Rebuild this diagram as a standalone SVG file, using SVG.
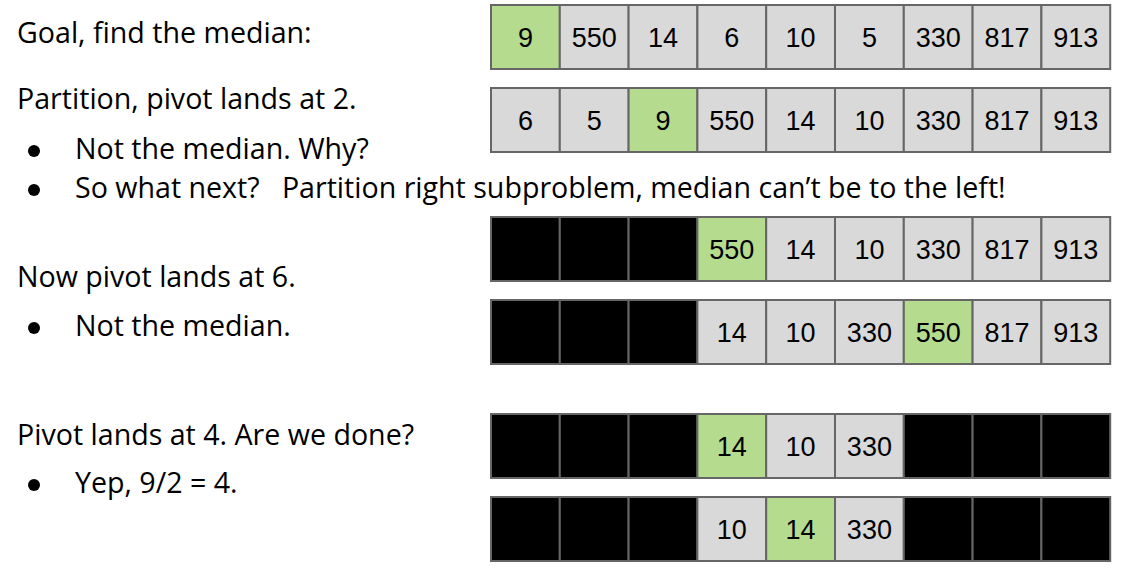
<svg xmlns="http://www.w3.org/2000/svg" width="1134" height="569" viewBox="0 0 1134 569">
<style>
.t{font-family:"Open Sans","Liberation Sans",Arial,sans-serif;font-size:28.6px;fill:#000}
.n{font-family:"Liberation Sans",Arial,sans-serif;font-size:27px;fill:#000;text-anchor:middle}
.c{fill:#d9d9d9;stroke:#666;stroke-width:2}
.g{fill:#b5db8f;stroke:#666;stroke-width:2}
.k{fill:#000;stroke:#666;stroke-width:2}
</style>
<rect width="1134" height="569" fill="#fff"/>
<g id="text">
<text class="t" x="17" y="43">Goal, find the median:</text>
<text class="t" x="17" y="109">Partition, pivot lands at 2.</text>
<circle cx="34" cy="151" r="6"/>
<text class="t" x="75" y="159">Not the median. Why?</text>
<circle cx="34" cy="190" r="6"/>
<text class="t" x="75" y="198" xml:space="preserve">So what next?   Partition right subproblem, median can’t be to the left!</text>
<text class="t" x="17" y="287">Now pivot lands at 6.</text>
<circle cx="34" cy="328" r="6"/>
<text class="t" x="75" y="336">Not the median.</text>
<text class="t" x="17" y="445">Pivot lands at 4. Are we done?</text>
<circle cx="34" cy="485" r="6"/>
<text class="t" x="75" y="493">Yep, 9/2 = 4.</text>
</g>
<g id="row1">
<rect class="g" x="491" y="5" width="68.8" height="64"/>
<rect class="c" x="559.8" y="5" width="68.8" height="64"/>
<rect class="c" x="628.6" y="5" width="68.8" height="64"/>
<rect class="c" x="697.4" y="5" width="68.8" height="64"/>
<rect class="c" x="766.2" y="5" width="68.8" height="64"/>
<rect class="c" x="835" y="5" width="68.8" height="64"/>
<rect class="c" x="903.8" y="5" width="68.8" height="64"/>
<rect class="c" x="972.6" y="5" width="68.8" height="64"/>
<rect class="c" x="1041.4" y="5" width="68.8" height="64"/>
<text class="n" x="525.4" y="47">9</text>
<text class="n" x="594.2" y="47">550</text>
<text class="n" x="663" y="47">14</text>
<text class="n" x="731.8" y="47">6</text>
<text class="n" x="800.6" y="47">10</text>
<text class="n" x="869.4" y="47">5</text>
<text class="n" x="938.2" y="47">330</text>
<text class="n" x="1007" y="47">817</text>
<text class="n" x="1075.8" y="47">913</text>
</g>
<g id="row2">
<rect class="c" x="491" y="88" width="68.8" height="64"/>
<rect class="c" x="559.8" y="88" width="68.8" height="64"/>
<rect class="g" x="628.6" y="88" width="68.8" height="64"/>
<rect class="c" x="697.4" y="88" width="68.8" height="64"/>
<rect class="c" x="766.2" y="88" width="68.8" height="64"/>
<rect class="c" x="835" y="88" width="68.8" height="64"/>
<rect class="c" x="903.8" y="88" width="68.8" height="64"/>
<rect class="c" x="972.6" y="88" width="68.8" height="64"/>
<rect class="c" x="1041.4" y="88" width="68.8" height="64"/>
<text class="n" x="525.4" y="130">6</text>
<text class="n" x="594.2" y="130">5</text>
<text class="n" x="663" y="130">9</text>
<text class="n" x="731.8" y="130">550</text>
<text class="n" x="800.6" y="130">14</text>
<text class="n" x="869.4" y="130">10</text>
<text class="n" x="938.2" y="130">330</text>
<text class="n" x="1007" y="130">817</text>
<text class="n" x="1075.8" y="130">913</text>
</g>
<g id="row3">
<rect class="k" x="491" y="217" width="68.8" height="64"/>
<rect class="k" x="559.8" y="217" width="68.8" height="64"/>
<rect class="k" x="628.6" y="217" width="68.8" height="64"/>
<rect class="g" x="697.4" y="217" width="68.8" height="64"/>
<rect class="c" x="766.2" y="217" width="68.8" height="64"/>
<rect class="c" x="835" y="217" width="68.8" height="64"/>
<rect class="c" x="903.8" y="217" width="68.8" height="64"/>
<rect class="c" x="972.6" y="217" width="68.8" height="64"/>
<rect class="c" x="1041.4" y="217" width="68.8" height="64"/>
<text class="n" x="731.8" y="259">550</text>
<text class="n" x="800.6" y="259">14</text>
<text class="n" x="869.4" y="259">10</text>
<text class="n" x="938.2" y="259">330</text>
<text class="n" x="1007" y="259">817</text>
<text class="n" x="1075.8" y="259">913</text>
</g>
<g id="row4">
<rect class="k" x="491" y="300" width="68.8" height="64"/>
<rect class="k" x="559.8" y="300" width="68.8" height="64"/>
<rect class="k" x="628.6" y="300" width="68.8" height="64"/>
<rect class="c" x="697.4" y="300" width="68.8" height="64"/>
<rect class="c" x="766.2" y="300" width="68.8" height="64"/>
<rect class="c" x="835" y="300" width="68.8" height="64"/>
<rect class="g" x="903.8" y="300" width="68.8" height="64"/>
<rect class="c" x="972.6" y="300" width="68.8" height="64"/>
<rect class="c" x="1041.4" y="300" width="68.8" height="64"/>
<text class="n" x="731.8" y="342">14</text>
<text class="n" x="800.6" y="342">10</text>
<text class="n" x="869.4" y="342">330</text>
<text class="n" x="938.2" y="342">550</text>
<text class="n" x="1007" y="342">817</text>
<text class="n" x="1075.8" y="342">913</text>
</g>
<g id="row5">
<rect class="k" x="491" y="414" width="68.8" height="64"/>
<rect class="k" x="559.8" y="414" width="68.8" height="64"/>
<rect class="k" x="628.6" y="414" width="68.8" height="64"/>
<rect class="g" x="697.4" y="414" width="68.8" height="64"/>
<rect class="c" x="766.2" y="414" width="68.8" height="64"/>
<rect class="c" x="835" y="414" width="68.8" height="64"/>
<rect class="k" x="903.8" y="414" width="68.8" height="64"/>
<rect class="k" x="972.6" y="414" width="68.8" height="64"/>
<rect class="k" x="1041.4" y="414" width="68.8" height="64"/>
<text class="n" x="731.8" y="456">14</text>
<text class="n" x="800.6" y="456">10</text>
<text class="n" x="869.4" y="456">330</text>
</g>
<g id="row6">
<rect class="k" x="491" y="497" width="68.8" height="64"/>
<rect class="k" x="559.8" y="497" width="68.8" height="64"/>
<rect class="k" x="628.6" y="497" width="68.8" height="64"/>
<rect class="c" x="697.4" y="497" width="68.8" height="64"/>
<rect class="g" x="766.2" y="497" width="68.8" height="64"/>
<rect class="c" x="835" y="497" width="68.8" height="64"/>
<rect class="k" x="903.8" y="497" width="68.8" height="64"/>
<rect class="k" x="972.6" y="497" width="68.8" height="64"/>
<rect class="k" x="1041.4" y="497" width="68.8" height="64"/>
<text class="n" x="731.8" y="539">10</text>
<text class="n" x="800.6" y="539">14</text>
<text class="n" x="869.4" y="539">330</text>
</g>
<g id="connectors"/>
</svg>
